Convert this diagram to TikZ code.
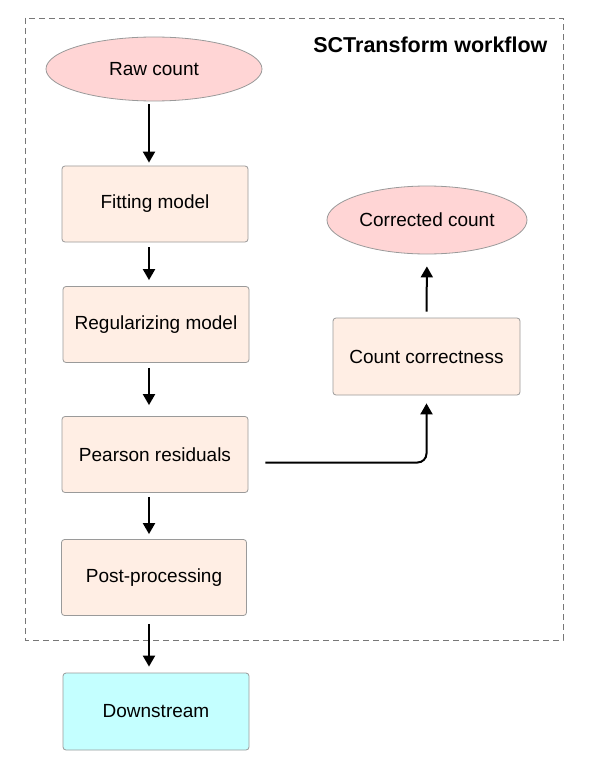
\documentclass[tikz,border=0pt]{standalone}
\usepackage{fontspec}
\setmainfont{Liberation Sans}
\usetikzlibrary{shapes.geometric,arrows.meta}
\definecolor{ellfill}{HTML}{FFD5D5}
\definecolor{boxfill}{HTML}{FFEEE4}
\definecolor{downfill}{HTML}{C4FFFF}
\definecolor{edge}{HTML}{9A9A9A}
\definecolor{frame}{HTML}{777777}
\tikzset{
  txt/.style={font=\fontsize{19}{23}\selectfont, text=black},
  stepbox/.style={txt, rectangle, rounded corners=3pt, draw=edge, line width=0.8pt, fill=boxfill,
    minimum width=186pt, minimum height=76pt, inner sep=0pt},
  oval/.style={txt, ellipse, draw=edge, line width=0.8pt, fill=ellfill, inner sep=0pt},
  arr/.style={line width=2pt, -{Triangle[length=11pt,width=12pt]}},
}
\begin{document}
\begin{tikzpicture}[x=1pt,y=-1pt]
\useasboundingbox (0,0) rectangle (602,778);
\fill[white] (0,0) rectangle (602,778);
% frame
\draw[frame, line width=0.9pt, dash pattern=on 6pt off 4pt] (25,18) rectangle (563,640);
\node[font=\fontsize{21.5}{25}\selectfont\bfseries, anchor=base east] (title) at (551,53) {SCTransform workflow};
% nodes
\node[oval, minimum width=216pt, minimum height=64pt] (raw) at (154,69) {Raw count};
\node[stepbox] (fit) at (155,204) {Fitting model};
\node[stepbox] (reg) at (156,324.5) {Regularizing model};
\node[stepbox] (pear) at (155,454.5) {Pearson residuals};
\node[stepbox, minimum width=185pt] (post) at (154,577.5) {Post-processing};
\node[stepbox, fill=downfill, minimum height=77pt] (down) at (156,711.5) {Downstream};
\node[stepbox, minimum width=187pt, minimum height=77pt] (cc) at (426.5,356.5) {Count correctness};
\node[oval, minimum width=200pt, minimum height=68pt] (corr) at (427,220) {Corrected count};
% connectors
\coordinate (ax) at (149,0);
\draw[arr, shorten <=3pt, shorten >=3pt] (raw.south -| ax) -- (fit.north -| ax);
\draw[arr, shorten <=5pt, shorten >=6pt] (fit.south -| ax) -- (reg.north -| ax);
\draw[arr, shorten <=5pt, shorten >=11pt] (reg.south -| ax) -- (pear.north -| ax);
\draw[arr, shorten <=4pt, shorten >=5pt] (pear.south -| ax) -- (post.north -| ax);
\draw[arr, shorten <=8pt, shorten >=6pt] (post.south -| ax) -- (down.north -| ax);
\draw[arr, shorten <=6pt, shorten >=12pt] (cc.north) -- (corr.south);
\draw[arr, rounded corners=9pt, shorten >=8pt] ([shift={(17,8)}]pear.east) -| (cc.south);
\end{tikzpicture}
\end{document}
